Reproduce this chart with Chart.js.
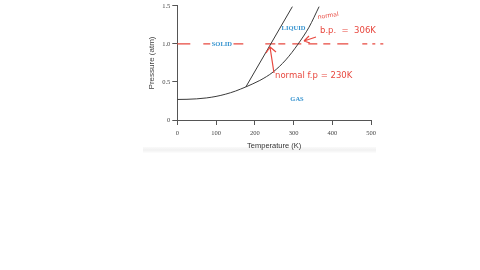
<!DOCTYPE html>
<html>
<head>
<meta charset="utf-8">
<script src="https://cdn.jsdelivr.net/npm/chart.js@4/dist/chart.umd.min.js"></script>
<style>
  html, body { margin: 0; padding: 0; background: #ffffff; }
  #wrap { position: relative; width: 480px; height: 270px; overflow: hidden; }
  #band { position: absolute; left: 143px; top: 147px; width: 233px; height: 6px;
          background: linear-gradient(#fafafa, #f1f1f1 50%, #fdfdfd); }
  canvas { position: absolute; left: 0; top: 0; }
</style>
</head>
<body>
<div id="wrap">
  <div id="band"></div>
  <canvas id="c" width="480" height="270"></canvas>
</div>
<script>
// ---- data ----
const sublimationT = [0, 25, 50, 75, 100, 125, 150, 177];
const sublimationP = [0.27, 0.272, 0.278, 0.29, 0.31, 0.34, 0.38, 0.435];
const meltingT = [177, 297];
const meltingP = [0.435, 1.49];
const vaporT = [177, 213, 247, 280, 312, 340, 366];
const vaporP = [0.435, 0.52, 0.63, 0.79, 1.0, 1.22, 1.49];
const normalLineT = [0, 537];
const normalLineP = [1.0, 1.0];
const yTickLabels = ['0', '0.5', '1.0', '1.5'];
const xTickValues = [0, 100, 200, 300, 400, 500];
const phaseLabels = ['SOLID', 'LIQUID', 'GAS'];
const phaseLabelT = [115, 300, 309];
const phaseLabelP = [0.99, 1.2, 0.27];

const toPts = (xs, ys) => xs.map((x, i) => ({ x: x, y: ys[i] }));

const RED = '#e8483f';
// hand-drawn dash rhythm of the 1 atm line (pixels)
const handDash = [13, 13, 40, 22, 10, 3, 7, 7, 9, 7, 9, 6, 7, 7, 11, 14, 5, 5, 3, 5, 3, 50];

const annotate = {
  id: 'annotate',
  afterDatasetsDraw(chart) {
    const ctx = chart.ctx;
    const xs = chart.scales.x, ys = chart.scales.y;
    ctx.save();
    // phase labels
    ctx.font = 'bold 6.5px "Liberation Serif", serif';
    ctx.textAlign = 'center';
    ctx.textBaseline = 'middle';
    phaseLabels.forEach((t, i) => {
      const px = xs.getPixelForValue(phaseLabelT[i]);
      const py = ys.getPixelForValue(phaseLabelP[i]);
      if (i === 0) {
        const w = ctx.measureText(t).width;
        ctx.fillStyle = '#ffffff';
        ctx.fillRect(px - w / 2 - 1.5, py - 2.5, w + 3, 5);
      }
      ctx.fillStyle = '#3392cf';
      ctx.fillText(t, px, py);
    });
    // handwritten-style notes
    ctx.fillStyle = RED;
    ctx.strokeStyle = RED;
    ctx.lineWidth = 1.2;
    ctx.textAlign = 'left';
    ctx.textBaseline = 'alphabetic';
    ctx.save();
    ctx.translate(318, 19);
    ctx.rotate(-0.15);
    ctx.font = '6px "DejaVu Sans", sans-serif';
    ctx.fillText('normal', 0, 0);
    ctx.restore();
    ctx.font = '8.5px "DejaVu Sans", sans-serif';
    ctx.fillText('b.p.  =  306K', 320, 33);
    ctx.fillText('normal f.p = 230K', 275, 78);
    // arrow 1 (toward boiling point)
    ctx.beginPath();
    ctx.moveTo(316, 37); ctx.lineTo(304, 41);
    ctx.moveTo(304, 41); ctx.lineTo(309, 36);
    ctx.moveTo(304, 41); ctx.lineTo(310, 43);
    ctx.stroke();
    // arrow 2 (toward freezing point)
    ctx.beginPath();
    ctx.moveTo(274, 73);
    ctx.quadraticCurveTo(272, 60, 270, 47);
    ctx.moveTo(266, 53); ctx.lineTo(270, 47); ctx.lineTo(276, 52);
    ctx.stroke();
    ctx.restore();
  }
};

const curveStyle = { borderColor: '#3a3a3a', borderWidth: 1, pointRadius: 0, fill: false, showLine: true };

new Chart(document.getElementById('c'), {
  type: 'scatter',
  data: {
    datasets: [
      Object.assign({ label: 'sublimation', data: toPts(sublimationT, sublimationP), cubicInterpolationMode: 'monotone' }, curveStyle),
      Object.assign({ label: 'melting', data: toPts(meltingT, meltingP) }, curveStyle),
      Object.assign({ label: 'vaporization', data: toPts(vaporT, vaporP), cubicInterpolationMode: 'monotone' }, curveStyle),
      { label: '1 atm', data: toPts(normalLineT, normalLineP), showLine: true, pointRadius: 0,
        borderColor: RED, borderWidth: 1.3, borderDash: handDash, clip: false }
    ]
  },
  options: {
    responsive: false,
    animation: false,
    devicePixelRatio: 1,
    layout: { padding: { left: 143, right: 109, top: 5, bottom: 120 } },
    plugins: { legend: { display: false }, tooltip: { enabled: false } },
    scales: {
      x: {
        type: 'linear', min: 0, max: 500,
        afterFit: s => { s.height = 30; },
        afterBuildTicks: s => { s.ticks = xTickValues.map(v => ({ value: v })); },
        grid: { drawOnChartArea: false, drawTicks: true, tickLength: 5, color: '#555' },
        border: { display: true, color: '#555', width: 1 },
        ticks: { color: '#444', padding: 4, maxRotation: 0, font: { family: '"Liberation Serif", serif', size: 6.5 } },
        title: { display: true, text: 'Temperature (K)', color: '#333', padding: { top: 0, bottom: 0 },
                 font: { family: '"Liberation Sans", Arial, sans-serif', size: 7.5 } }
      },
      y: {
        type: 'linear', min: 0, max: 1.5,
        afterFit: s => { s.width = 34.3; },
        afterBuildTicks: s => { s.ticks = yTickLabels.map(t => ({ value: parseFloat(t) })); },
        grid: { drawOnChartArea: false, drawTicks: true, tickLength: 5, color: '#555' },
        border: { display: true, color: '#555', width: 1 },
        ticks: { color: '#444', padding: 2,
                 callback: (v) => yTickLabels.find(t => parseFloat(t) === v),
                 font: { family: '"Liberation Serif", serif', size: 6.5 } },
        title: { display: true, text: 'Pressure (atm)', color: '#444', padding: { top: 4, bottom: 0 },
                 font: { family: '"Liberation Sans", Arial, sans-serif', size: 8 } }
      }
    }
  },
  plugins: [annotate]
});
</script>
</body>
</html>
